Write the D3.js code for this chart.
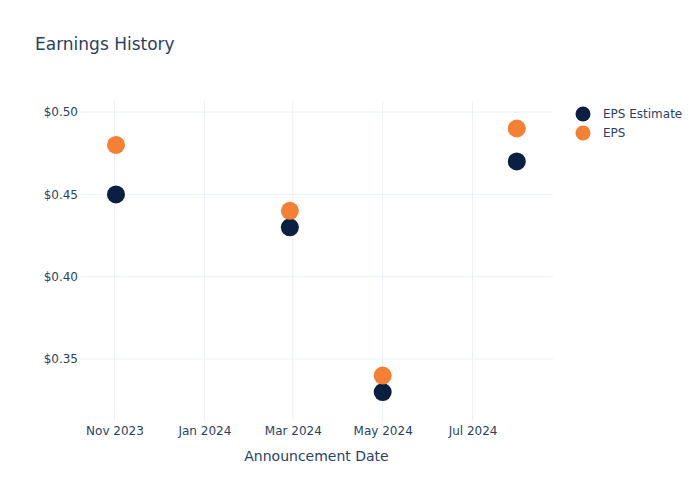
<!DOCTYPE html>
<html><head><meta charset="utf-8">
<script src="https://cdn.jsdelivr.net/npm/d3@7"></script>
<style>body{margin:0;background:#fff}text{font-family:"DejaVu Sans",sans-serif}</style>
</head><body><svg id="c" width="700" height="500"></svg>
<script>
const dates = ["2023-11-02","2024-02-28","2024-05-01","2024-07-31"];
const epsEstimate = [0.45,0.43,0.33,0.47];
const eps = [0.48,0.44,0.34,0.49];
const seriesNames = ["EPS Estimate","EPS"];
const seriesColors = ["#0b1f42","#f58034"];
const xTicks = ["2023-11-01","2024-01-01","2024-03-01","2024-05-01","2024-07-01"];
const yTicks = [0.35,0.40,0.45,0.50];

const svg = d3.select("#c");
const parse = d3.utcParse("%Y-%m-%d");
const L=80,R=553,T=101,B=421;
const x = d3.scaleUtc().domain([new Date(Date.UTC(2023,9,8,14)), new Date(Date.UTC(2024,7,24,14))]).range([L,R]);
const y = d3.scaleLinear().domain([0.3124,0.5067]).range([B,T]);

svg.append("text").attr("x",35).attr("y",50).attr("font-size",17).attr("fill","#2a3f5f").text("Earnings History");

const grid = svg.append("g");
grid.selectAll("line.v").data(xTicks).join("line")
  .attr("x1",d=>x(parse(d))).attr("x2",d=>x(parse(d))).attr("y1",T).attr("y2",B)
  .attr("stroke","#ebf0f8").attr("stroke-width",1);
grid.selectAll("line.h").data(yTicks).join("line")
  .attr("x1",L).attr("x2",R).attr("y1",d=>y(d)).attr("y2",d=>y(d))
  .attr("stroke","#ebf0f8").attr("stroke-width",1);

const xAxis = d3.axisBottom(x).tickValues(xTicks.map(parse)).tickFormat(d3.utcFormat("%b %Y")).tickSize(0).tickPadding(5);
const gx = svg.append("g").attr("transform",`translate(0,${B})`).call(xAxis);
gx.select(".domain").remove();
gx.selectAll("text").attr("font-size",12).attr("fill","#2a3f5f").attr("font-family","'DejaVu Sans',sans-serif");

const yAxis = d3.axisLeft(y).tickValues(yTicks).tickFormat(d=>"$"+d.toFixed(2)).tickSize(0).tickPadding(2);
const gy = svg.append("g").attr("transform",`translate(${L},0)`).call(yAxis);
gy.select(".domain").remove();
gy.selectAll("text").attr("font-size",12).attr("fill","#2a3f5f").attr("font-family","'DejaVu Sans',sans-serif");

svg.append("text").attr("x",(L+R)/2).attr("y",461).attr("text-anchor","middle").attr("font-size",14).attr("fill","#2a3f5f").text("Announcement Date");

const series = [epsEstimate, eps];
series.forEach((vals,i)=>{
  svg.append("g").selectAll("circle").data(vals).join("circle")
    .attr("cx",(d,j)=>x(parse(dates[j]))).attr("cy",d=>y(d)).attr("r",9)
    .attr("fill",seriesColors[i]);
});

const lg = svg.append("g");
seriesNames.forEach((n,i)=>{
  lg.append("circle").attr("cx",583).attr("cy",114+i*19).attr("r",7.5).attr("fill",seriesColors[i]);
  lg.append("text").attr("x",603).attr("y",118+i*19).attr("font-size",12).attr("fill","#2a3f5f").text(n);
});
</script></body></html>
